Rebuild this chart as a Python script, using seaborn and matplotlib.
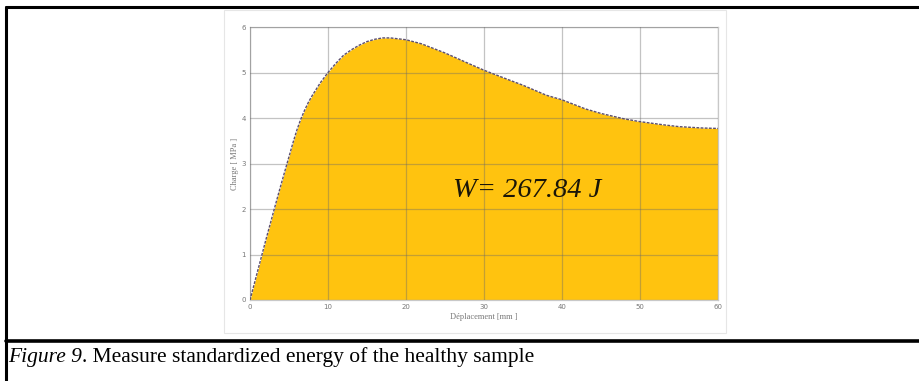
import matplotlib
matplotlib.use("Agg")
import matplotlib.pyplot as plt
import seaborn as sns
import pandas as pd
from matplotlib.patches import Rectangle
from matplotlib.lines import Line2D

# --- Dati ---
deplacement = [0, 1, 2, 3, 4, 4.5, 5, 5.5, 6, 6.5, 7, 7.5, 8, 9, 10, 11, 12, 13, 14, 15, 16,
               17, 18, 20, 22, 25, 28, 30, 33, 35, 38, 40, 43, 45, 48, 50, 53, 55, 58, 60]
charge = [0, 0.65, 1.3, 1.93, 2.55, 2.85, 3.15, 3.45, 3.73, 3.97, 4.17, 4.35, 4.5, 4.77,
          5.0, 5.2, 5.38, 5.5, 5.6, 5.68, 5.73, 5.76, 5.76, 5.72, 5.63, 5.43, 5.2, 5.05,
          4.85, 4.72, 4.5, 4.40, 4.2, 4.1, 3.98, 3.92, 3.85, 3.81, 3.78, 3.77]
x_ticks = [0, 10, 20, 30, 40, 50, 60]
y_ticks = [0, 1, 2, 3, 4, 5, 6]
energy_label = "W= 267.84 J"
caption_italic = "Figure 9"
caption_rest = ". Measure standardized energy of the healthy sample"

df = pd.DataFrame({"x": deplacement, "y": charge})

sns.set_style("white")
fig = plt.figure(figsize=(9.19, 3.81), dpi=100)

# cornice esterna e linea di separazione della didascalia
fig.add_artist(Line2D([6 / 919, 1.0], [1 - 7 / 381, 1 - 7 / 381], color="black", lw=2.2))
fig.add_artist(Line2D([6 / 919, 6 / 919], [0, 1 - 7 / 381], color="black", lw=2.2))
fig.add_artist(Line2D([6 / 919, 1.0], [1 - 341 / 381, 1 - 341 / 381], color="black", lw=2.6))
# cornice chiara dell'immagine
fig.add_artist(Rectangle((224 / 919, 1 - 333 / 381), (726 - 224) / 919, (333 - 10) / 381,
                         fill=False, ec="#e6e6e6", lw=0.8))

ax = fig.add_axes([250 / 919, 1 - 300 / 381, 468 / 919, 273 / 381])
ax.fill_between(df["x"], df["y"], color="#FFC30F", lw=0, zorder=1)
sns.lineplot(data=df, x="x", y="y", ax=ax, color="#5c4f6e", lw=1.0,
             linestyle=(0, (2, 1)), zorder=3)

ax.set_xlim(0, 60)
ax.set_ylim(0, 6)
ax.set_xticks(x_ticks)
ax.set_yticks(y_ticks)
ax.tick_params(labelsize=5, colors="#777777", length=0, pad=3)
ax.set_axisbelow(False)
ax.grid(True, color="#6a6a6a", alpha=0.4, lw=0.9, zorder=2)
for s in ax.spines.values():
    s.set_color("#c8c8c8")
    s.set_linewidth(0.9)

ax.set_xlabel("Déplacement [mm ]", fontsize=6, color="#777777", family="Liberation Serif", labelpad=2)
ax.set_ylabel("Charge [ MPa ]", fontsize=6, color="#777777", family="Liberation Serif", labelpad=2)

ax.text(35.5, 2.4, energy_label, fontsize=20.5, style="italic", family="Liberation Serif",
        color="#1a1608", ha="center", va="center", zorder=4)

# didascalia
t1 = fig.text(8 / 919, 1 - 362 / 381, caption_italic, fontsize=15.5, style="italic",
              family="Liberation Serif", va="baseline", color="black")
fig.canvas.draw()
bb = t1.get_window_extent()
fig.text(bb.x1 / fig.bbox.width, 1 - 362 / 381, caption_rest, fontsize=15.5,
         family="Liberation Serif", va="baseline", color="black")

fig.savefig("out.png", dpi=100)
plt.close(fig)
